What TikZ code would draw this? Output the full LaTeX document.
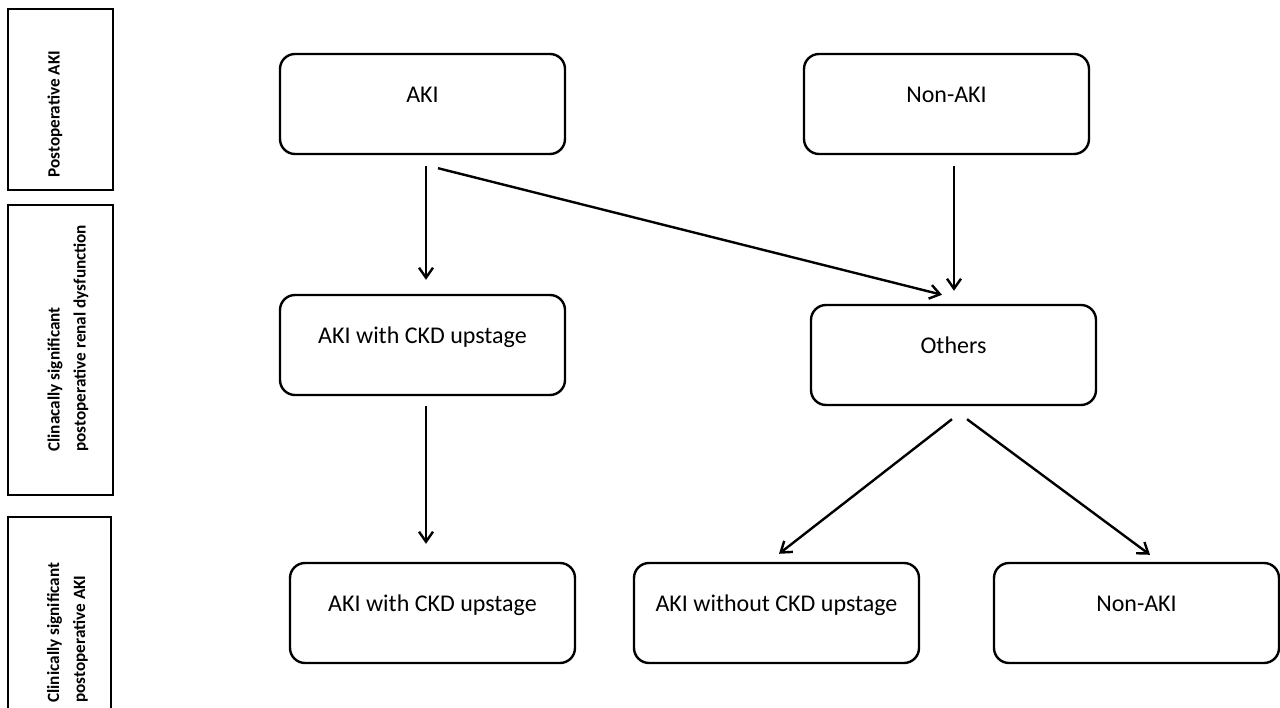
\documentclass[tikz,border=0pt]{standalone}
\usepackage{fontspec}
\setmainfont{Carlito}
\usepackage{tikz}
\usetikzlibrary{arrows.meta, positioning}
\tikzset{%
  >={Straight Barb[length=5pt,width=7pt]},
  % Specifications for style of nodes:
        stage/.style = {rectangle, rounded corners=7.5pt, draw=black,
                        line width=1.2pt, minimum width=142.5pt,
                        minimum height=50pt, text height=8pt,
                        text depth=9pt, font=\fontsize{12}{14}\selectfont},
    sidelabel/.style = {rotate=90, anchor=west, align=left, inner sep=0pt,
                        font=\bfseries\fontsize{8.6}{13}\selectfont},
    sideframe/.style = {draw=black, line width=0.9pt},
         flow/.style = {->, line width=1.2pt},
}

\begin{document}
\begin{tikzpicture}[x=1pt, y=1pt, align=center]
  \path[use as bounding box, clip] (0,0) rectangle (640,353.5);
  % Frames on the left with their rotated labels
  \draw[sideframe] (4,258.5) rectangle (56.5,349);
  \draw[sideframe] (4,106) rectangle (56.5,251);
  \draw[sideframe] (4,-6.5) rectangle (55.5,95);
  \node (postAKI)  [sidelabel] at (27.5,264.5) {Postoperative AKI};
  \node (sigRenal) [sidelabel] at (34,127.5)   {Clinacally significant\\postoperative renal dysfunction};
  \node (sigAKI)   [sidelabel] at (33.75,2)    {Clinically significant\\postoperative AKI};
  % Specification of nodes (position, etc.)
  \node (aki)       [stage] at (211.25,301.5) {AKI};
  \node (nonaki)    [stage] at (473.25,301.5) {Non-AKI};
  \node (akickd)    [stage, node distance=120.5pt, below of=aki]              {AKI with CKD upstage};
  \node (others)    [stage, node distance=125.5pt, below of=nonaki, xshift=3.5pt] {Others};
  \node (akickdEnd) [stage, node distance=134pt, below of=akickd, xshift=5pt]  {AKI with CKD upstage};
  \node (akinockd)  [stage, node distance=172pt, right of=akickdEnd]          {AKI without CKD upstage};
  \node (nonakiEnd) [stage, node distance=180pt, right of=akinockd]           {Non-AKI};
  % Specification of lines between nodes specified above
  \draw[flow, shorten <=5.5pt, shorten >=7pt] ([xshift=1.75pt]aki.south) -- ([xshift=1.75pt]akickd.north);
  \draw[flow] ([xshift=7.75pt,yshift=-6.5pt]aki.south) -- ([xshift=-5.75pt,yshift=4.5pt]others.north);
  \draw[flow, shorten <=5.5pt, shorten >=6.5pt] ([xshift=3.75pt]nonaki.south) -- ([xshift=3.75pt]nonaki.south |- others.north);
  \draw[flow, shorten <=5pt, shorten >=9pt] ([xshift=1.75pt]akickd.south) -- ([xshift=1.75pt]akickd.south |- akickdEnd.north);
  \draw[flow] ([xshift=-0.75pt,yshift=-6.5pt]others.south) -- ([xshift=1.25pt,yshift=4pt]akinockd.north);
  \draw[flow] ([xshift=6.75pt,yshift=-6.5pt]others.south) -- ([xshift=6.75pt,yshift=3.5pt]nonakiEnd.north);
\end{tikzpicture}
\end{document}
